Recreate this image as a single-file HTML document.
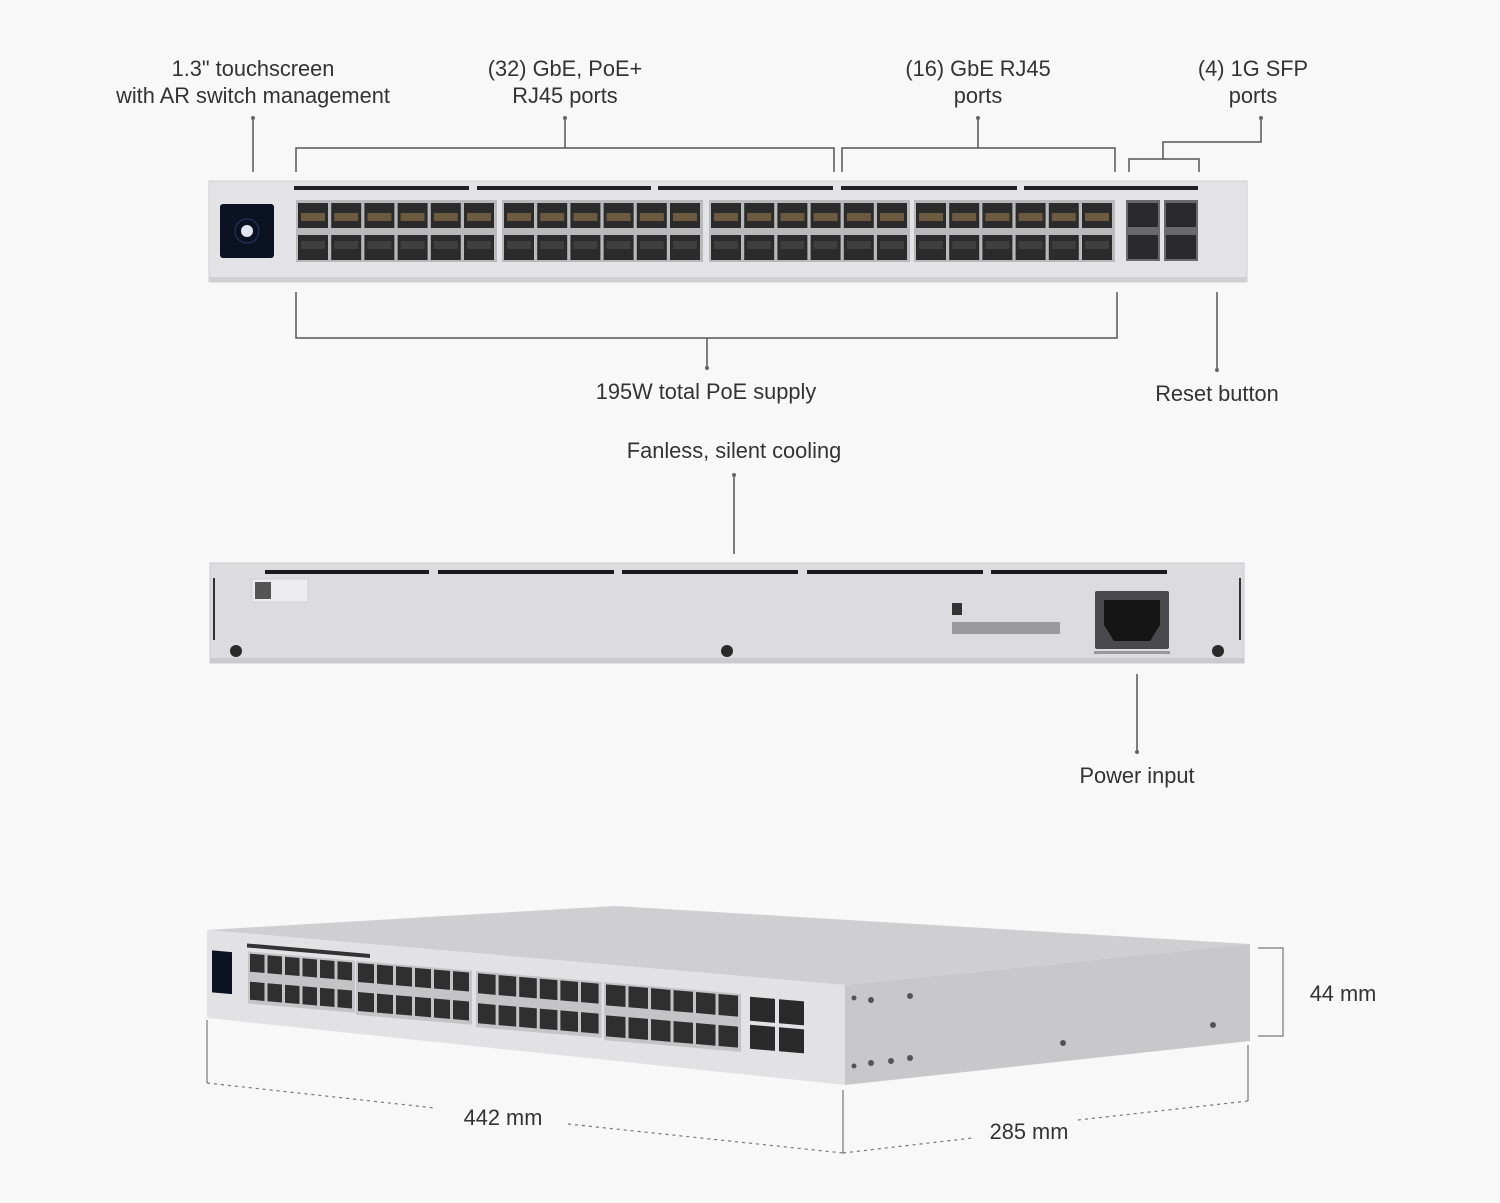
<!DOCTYPE html>
<html><head><meta charset="utf-8"><style>
html,body{margin:0;padding:0;background:#f8f8f8;}
svg{display:block}
text{font-family:"Liberation Sans",sans-serif;font-size:21.8px;fill:#333;text-anchor:middle}
</style></head><body>
<svg id="s" width="1500" height="1203" viewBox="0 0 1500 1203" xmlns="http://www.w3.org/2000/svg">
<rect width="1500" height="1203" fill="#f8f8f8"/>
<text x="253" y="76">1.3" touchscreen</text>
<text x="253" y="103">with AR switch management</text>
<text x="565" y="76">(32) GbE, PoE+</text>
<text x="565" y="103">RJ45 ports</text>
<text x="978" y="76">(16) GbE RJ45</text>
<text x="978" y="103">ports</text>
<text x="1253" y="76">(4) 1G SFP</text>
<text x="1253" y="103">ports</text>
<g stroke="#555" stroke-width="1.5" fill="none">
<line x1="253" y1="118" x2="253" y2="172"/>
<path d="M296 172 V148 H834 V172 M565 148 V118"/>
<path d="M842 172 V148 H1115 V172 M978 148 V118"/>
<path d="M1129 172 V159 H1199 V172 M1163 159 V142 H1261 V118"/>
<path d="M296 292 V338 H1117 V292 M707 338 V368"/>
<line x1="1217" y1="292" x2="1217" y2="370"/>
<line x1="734" y1="475" x2="734" y2="554"/>
<line x1="1137" y1="674" x2="1137" y2="752"/>
</g>
<g fill="#666"><circle cx="253" cy="118" r="2"/><circle cx="565" cy="118" r="2"/><circle cx="978" cy="118" r="2"/><circle cx="1261" cy="118" r="2"/><circle cx="707" cy="368" r="2"/><circle cx="1217" cy="370" r="2"/><circle cx="734" cy="475" r="2"/><circle cx="1137" cy="752" r="2"/></g>
<text x="706" y="399">195W total PoE supply</text>
<text x="1217" y="401">Reset button</text>
<text x="734" y="458">Fanless, silent cooling</text>
<text x="1137" y="783">Power input</text>
<text x="1343" y="1001">44 mm</text>
<text x="503" y="1125">442 mm</text>
<text x="1029" y="1139">285 mm</text>

<rect x="209" y="181" width="1038" height="101" fill="#e3e3e5" stroke="#cfcfd2"/>
<rect x="209" y="277" width="1038" height="5" fill="#d0d0d3"/>
<rect x="220" y="204" width="54" height="54" rx="3" fill="#0b1222"/>
<circle cx="247" cy="231" r="6" fill="#dfe6f0"/>
<circle cx="247" cy="231" r="12" fill="none" stroke="#2a3a66"/>
<rect x="294" y="186" width="175" height="4" fill="#222"/><rect x="477" y="186" width="174" height="4" fill="#222"/><rect x="658" y="186" width="175" height="4" fill="#222"/><rect x="841" y="186" width="176" height="4" fill="#222"/><rect x="1024" y="186" width="174" height="4" fill="#222"/>
<g id="fp"></g>
<rect x="1126" y="200" width="34" height="61" fill="#6a6a6c"/><rect x="1164" y="200" width="34" height="61" fill="#6a6a6c"/>
<rect x="1128" y="203" width="30" height="24" fill="#2a2a2c"/><rect x="1128" y="235" width="30" height="24" fill="#2a2a2c"/>
<rect x="1166" y="203" width="30" height="24" fill="#2a2a2c"/><rect x="1166" y="235" width="30" height="24" fill="#2a2a2c"/>

<rect x="210" y="563" width="1034" height="100" fill="#dcdcde" stroke="#cacacd"/>
<rect x="210" y="658" width="1034" height="5" fill="#cbcbce"/>
<line x1="214" y1="578" x2="214" y2="640" stroke="#333" stroke-width="2"/>
<line x1="1240" y1="578" x2="1240" y2="640" stroke="#333" stroke-width="2"/>
<g fill="#1a1a1a"><rect x="265" y="570" width="164" height="4"/><rect x="438" y="570" width="176" height="4"/><rect x="622" y="570" width="176" height="4"/><rect x="807" y="570" width="176" height="4"/><rect x="991" y="570" width="176" height="4"/></g>
<rect x="252" y="579" width="56" height="23" fill="#ececee" stroke="#bbb" stroke-width=".5"/>
<rect x="255" y="582" width="16" height="17" fill="#555"/>
<g fill="#2a2a2a"><circle cx="236" cy="651" r="6"/><circle cx="727" cy="651" r="6"/><circle cx="1218" cy="651" r="6"/></g>
<rect x="952" y="603" width="10" height="12" fill="#333"/>
<rect x="952" y="622" width="108" height="12" fill="#9a9a9d"/>
<rect x="1095" y="591" width="74" height="58" rx="2" fill="#4a4a4c"/>
<path d="M1104 600 H1160 V625 L1150 641 H1114 L1104 625 Z" fill="#151515"/>
<rect x="1094" y="651" width="76" height="3" fill="#999"/>

<polygon points="207,930 615,906 1250,944 845,985" fill="#cfcfd1"/>
<polygon points="845,985 1250,944 1250,1041 845,1085" fill="#c8c8ca"/>
<polygon points="207,930 845,985 845,1085 207,1018" fill="#e2e2e4"/>
<g id="iso" transform="matrix(1,0.086,0,1,207,930)"></g>
<g fill="#555"><circle cx="854" cy="998" r="2.5"/><circle cx="871" cy="1000" r="3"/><circle cx="910" cy="996" r="3"/><circle cx="854" cy="1066" r="2.5"/><circle cx="871" cy="1063" r="3"/><circle cx="891" cy="1061" r="3"/><circle cx="910" cy="1058" r="3"/><circle cx="1063" cy="1043" r="3"/><circle cx="1213" cy="1025" r="3"/></g>
<g stroke="#777" stroke-width="1.2" fill="none">
<line x1="207" y1="1020" x2="207" y2="1083"/>
<line x1="843" y1="1090" x2="843" y2="1153"/>
<line x1="1248" y1="1045" x2="1248" y2="1101"/>
<path d="M1258 948 H1283 V1036 H1258"/>
<g stroke-dasharray="3,4"><line x1="207" y1="1083" x2="435" y2="1108"/><line x1="568" y1="1124" x2="843" y2="1153"/><line x1="843" y1="1153" x2="972" y2="1138"/><line x1="1078" y1="1120" x2="1248" y2="1101"/></g>
</g>
</svg>
<script>
var NS="http://www.w3.org/2000/svg";
function R(g,x,y,w,h,f){var r=document.createElementNS(NS,"rect");r.setAttribute("x",x);r.setAttribute("y",y);r.setAttribute("width",w);r.setAttribute("height",h);r.setAttribute("fill",f);g.appendChild(r);}
var fp=document.getElementById("fp");
[296,502,709,914].forEach(function(x0){R(fp,x0,200,201,62,"#b9b9bb");
 for(var i=0;i<6;i++){var x=x0+2+i*33.2;R(fp,x,203,30,25,"#2b2b2b");R(fp,x+3,213,24,8,"#6b5a40");R(fp,x,235,30,25,"#2b2b2b");R(fp,x+3,241,24,8,"#3f3f3f");}});
var iso=document.getElementById("iso");
R(iso,5,20,20,42,"#0b1222");
R(iso,40,10,123,4,"#333");R(iso,140,10,0,0,"#333");
var G=[[43,17.5,20],[151,19,21],[271,20.6,22],[399,22.5,23]];
G.forEach(function(g){R(iso,g[0]-2,18,g[1]*6+2,g[2]*2+12,"#c4c4c6");for(var i=0;i<6;i++){var x=g[0]+i*g[1];R(iso,x,20,g[1]-3,g[2]-2,"#2f2f2f");R(iso,x,28+g[2],g[1]-3,g[2]-2,"#2f2f2f");}});
R(iso,543,20,25,24,"#2a2a2a");R(iso,572,20,25,24,"#2a2a2a");R(iso,543,48,25,24,"#2a2a2a");R(iso,572,48,25,24,"#2a2a2a");
</script>
</body></html>
